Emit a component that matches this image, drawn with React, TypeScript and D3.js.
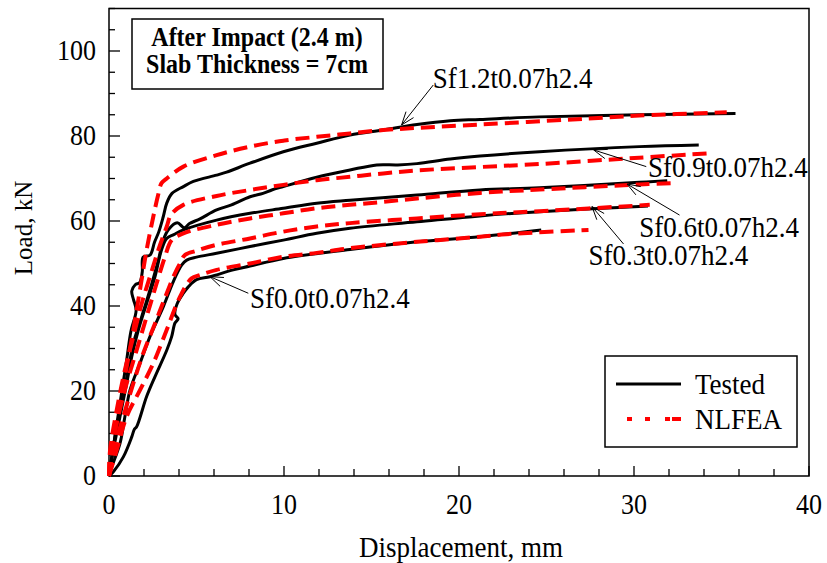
import React from "react";
import * as d3 from "d3";

type P = [number, number];

// Tick values
const xMajorTicks = [0, 10, 20, 30, 40];
const xMinorTicks = d3.range(0, 41, 2);
const yMajorTicks = [0, 20, 40, 60, 80, 100];
const yMinorTicks = d3.range(0, 111, 5);

// Series (displacement mm, load kN)
const testedSf12: P[] = [[0,0],[0.15,4],[0.4,11],[0.7,19],[1.0,27],[1.25,34],[1.55,39],[1.4,41.5],[1.3,43.5],[1.5,45],[1.75,45.5],[1.9,48],[1.95,51.5],[2.35,52],[2.6,55],[2.85,57.5],[3.1,61],[3.3,64.2],[3.6,66.5],[4.25,68.1],[4.82,69.3],[6.15,70.8],[6.72,71.5],[8.06,73.6],[9.96,76.3],[11.87,78.3],[13.77,80.2],[15.67,81.4],[17.6,82.7],[19.5,83.6],[21.2,83.9],[24.6,84.5],[30.3,85.0],[35.8,85.3]];
const nlfeaSf12: P[] = [[0,0],[0.06,1.4],[0.25,7.7],[0.63,17.2],[1.01,25.7],[1.39,34.4],[1.77,43.8],[2.15,53.2],[2.53,61],[2.8,66],[3.0,68.9],[3.3,70],[4.25,72.8],[6.15,75.5],[8.06,77.5],[9.96,78.9],[11.87,79.8],[13.77,80.6],[15.67,81.4],[17.6,81.9],[21.2,82.7],[26.5,83.9],[30.3,84.8],[35.3,85.6]];
const testedSf09: P[] = [[0,0],[0.1,3],[0.34,9.2],[0.72,17.1],[1.1,25],[1.39,31.2],[1.87,37.5],[2.34,43.8],[2.82,50.8],[3.1,55.5],[3.4,58],[3.9,59.6],[4.3,58.4],[4.6,59.4],[5.2,60.5],[6.15,62.6],[7.0,63.8],[8.06,65.7],[8.8,66.5],[9.3,67.3],[9.96,68.1],[11.87,70.3],[13.77,72],[15.3,73.2],[16.5,73.2],[17.6,73.5],[19.5,74.6],[21.2,75.3],[24.6,76.3],[30.3,77.5],[33.7,77.9]];
const nlfeaSf09: P[] = [[0,0],[0.06,6],[0.44,15.5],[0.91,25],[1.39,32.8],[1.87,40.6],[2.34,46.9],[2.82,53.2],[3.3,58.7],[3.55,61.5],[4.25,63.8],[6.15,65.9],[8.06,67.3],[9.96,68.5],[11.87,69.6],[13.77,70.4],[15.67,71.2],[17.6,71.9],[21.2,72.7],[24.6,73.4],[30.3,74.9],[34.2,75.9]];
const testedSf06: P[] = [[0,0],[0.25,6.1],[0.63,14],[1.01,21.8],[1.3,28.1],[1.68,34.4],[2.15,40.6],[2.63,46.9],[3.0,53.2],[3.3,55.9],[3.7,56.8],[4.25,57.9],[6.15,60.2],[8.06,61.8],[9.96,63],[11.87,64.2],[13.77,64.9],[17.6,66.1],[21.2,67.3],[24.6,67.8],[30.3,69.1],[31.9,69.5]];
const nlfeaSf06: P[] = [[0,0],[0.06,4.5],[0.44,12.4],[1.01,21.8],[1.58,29.6],[2.15,37.5],[2.72,45.3],[3.2,51.6],[3.58,55.5],[4.25,57.1],[6.15,59.1],[8.06,60.6],[9.96,61.8],[11.87,63],[13.77,63.8],[15.67,64.5],[17.6,65.3],[21.2,66.6],[24.6,67.4],[30.3,68.6],[32.2,68.9]];
const testedSf03: P[] = [[0,0],[0.1,1.5],[0.63,7.7],[0.91,14],[1.2,20.2],[1.77,26.5],[2.34,32.8],[3.1,39.8],[3.67,45.7],[4.15,49.6],[4.44,50.8],[5.0,51.5],[6.15,52.4],[8.06,54],[9.96,55.5],[11.87,57.1],[13.77,58.3],[17.6,59.8],[21.2,61.2],[24.6,62.2],[30.3,63.4],[30.8,63.5]];
const nlfeaSf03: P[] = [[0,0],[0.25,6.1],[0.82,14],[1.39,21.8],[1.96,28.9],[2.63,35.9],[3.3,43],[3.77,47.7],[4.06,50],[4.34,52],[5.0,53],[6.15,54.4],[8.06,55.9],[9.96,57.5],[11.87,58.7],[13.77,59.5],[17.6,60.6],[21.2,61.6],[24.6,62.3],[30.9,63.8]];
const testedSf00: P[] = [[0,0],[0.25,1],[0.82,4.5],[1.3,9.2],[1.45,11],[1.58,11.6],[2.15,18.7],[2.63,23.4],[3.3,29.6],[3.58,32.8],[3.77,36],[3.95,37],[3.77,38],[3.9,40.6],[4.25,43],[4.53,44.5],[5.0,46.2],[5.77,46.9],[7.1,48.5],[8.06,49.4],[9.96,51.2],[13.77,53.3],[17.6,55.1],[21.2,56.3],[24.7,57.9]];
const nlfeaSf00: P[] = [[0,0],[0.44,6.1],[1.01,14],[1.77,20.2],[2.53,26.5],[3.3,34.4],[4.06,42.2],[4.72,46.5],[5.2,47.3],[6.15,48.5],[8.06,50],[9.96,51.6],[11.87,52.5],[13.77,53.6],[17.6,55.1],[21.2,56.3],[22.7,56.9],[27.4,57.9]];

const testedSeries = [testedSf12, testedSf09, testedSf06, testedSf03, testedSf00];
const nlfeaSeries = [nlfeaSf12, nlfeaSf09, nlfeaSf06, nlfeaSf03, nlfeaSf00];

// Annotations: label, label anchor (data), arrow tail (data), arrow tip (data)
const annLabels = ["Sf1.2t0.07h2.4", "Sf0.9t0.07h2.4", "Sf0.6t0.07h2.4", "Sf0.3t0.07h2.4", "Sf0.0t0.07h2.4"];
const annText: P[] = [[18.5, 91.2], [30.8, 70.4], [30.3, 56.2], [27.4, 49.6], [8.06, 39.5]];
const annTail: P[] = [[18.53, 92], [30.7, 72.8], [32.6, 61.4], [29.4, 54.6], [7.96, 43]];
const annTip: P[] = [[16.72, 82.6], [27.7, 76.7], [29.6, 68.7], [27.6, 63.4], [5.77, 46.9]];

const legendLabels = ["Tested", "NLFEA"];

const FONT = "Liberation Serif, Times New Roman, Tinos, serif";
const SY = 1.1; // vertical stretch of glyphs seen in the reference

function T(props: { x: number; y: number; size: number; anchor?: string; bold?: boolean; dy?: number; children: React.ReactNode }) {
  const { x, y, size, anchor, bold, dy, children } = props;
  return (
    <text
      transform={`translate(${x},${y}) scale(1,${SY})`}
      y={dy || 0}
      style={{ fontFamily: FONT }}
      fontSize={size}
      fontWeight={bold ? "bold" : "normal"}
      textAnchor={anchor || "start"}
    >
      {children}
    </text>
  );
}

export default function App() {
  const W = 827, H = 563;
  const x = d3.scaleLinear().domain([0, 40]).range([109, 809]);
  const y = d3.scaleLinear().domain([0, 110]).range([476, 8.5]);
  const line = d3.line<P>().x(d => x(d[0])).y(d => y(d[1])).curve(d3.curveCatmullRom.alpha(0.5));

  const arrowHead = (tail: P, tip: P) => {
    const tx = x(tip[0]), ty = y(tip[1]);
    const ang = Math.atan2(ty - y(tail[1]), tx - x(tail[0]));
    const L = 14, a = 0.35;
    const p1 = [tx - L * Math.cos(ang - a), ty - L * Math.sin(ang - a)];
    const p2 = [tx - L * Math.cos(ang + a), ty - L * Math.sin(ang + a)];
    return `M${p1[0]},${p1[1]}L${tx},${ty}L${p2[0]},${p2[1]}`;
  };

  return (
    <svg width={W} height={H} style={{ position: "absolute", left: 0, top: 0, background: "#fff", fontFamily: FONT }}>
      <rect x={0} y={0} width={W} height={H} fill="#fff" />
      {/* frame */}
      <rect x={x(0)} y={y(110)} width={x(40) - x(0)} height={y(0) - y(110)} fill="none" stroke="#000" strokeWidth={1.5} />
      {/* ticks */}
      {xMinorTicks.map(t => (
        <line key={"xm" + t} x1={x(t)} x2={x(t)} y1={y(0)} y2={y(0) - (t % 10 === 0 ? 10 : 7)} stroke="#000" strokeWidth={1.3} />
      ))}
      {yMinorTicks.map(t => (
        <line key={"ym" + t} x1={x(0)} x2={x(0) + (t % 20 === 0 ? 11 : 6)} y1={y(t)} y2={y(t)} stroke="#000" strokeWidth={1.3} />
      ))}
      {xMajorTicks.map(t => (
        <T key={"xl" + t} x={x(t)} y={514} size={26} anchor="middle">{t}</T>
      ))}
      {yMajorTicks.map(t => (
        <T key={"yl" + t} x={96} y={y(t) + 9} size={26} anchor="end">{t}</T>
      ))}
      <T x={461} y={557} size={27} anchor="middle">Displacement, mm</T>
      <text style={{ fontFamily: FONT }} transform={`translate(32,228) rotate(-90)`} fontSize={25} textAnchor="middle">Load, kN</text>

      {/* curves */}
      {testedSeries.map((s, i) => (
        <path key={"t" + i} d={line(s) || ""} fill="none" stroke="#000" strokeWidth={3} strokeLinejoin="round" />
      ))}
      {nlfeaSeries.map((s, i) => (
        <path key={"n" + i} d={line(s) || ""} fill="none" stroke="#ff0000" strokeWidth={4} strokeDasharray="14,7" />
      ))}

      {/* annotations */}
      {annLabels.map((lab, i) => (
        <g key={"a" + i}>
          <line x1={x(annTail[i][0])} y1={y(annTail[i][1])} x2={x(annTip[i][0])} y2={y(annTip[i][1])} stroke="#000" strokeWidth={1} />
          <path d={arrowHead(annTail[i], annTip[i])} fill="none" stroke="#000" strokeWidth={1} />
          <T x={x(annText[i][0])} y={y(annText[i][1])} size={27}>{lab}</T>
        </g>
      ))}

      {/* title box */}
      <rect x={132} y={19} width={251} height={70} fill="#fff" stroke="#000" strokeWidth={1.5} />
      <T x={257} y={46} size={24} bold anchor="middle">After Impact (2.4 m)</T>
      <T x={257} y={73} size={24} bold anchor="middle">Slab Thickness = 7cm</T>

      {/* legend */}
      <rect x={605} y={356} width={192} height={91} fill="#fff" stroke="#000" strokeWidth={1.5} />
      <line x1={616} x2={681} y1={384} y2={384} stroke="#000" strokeWidth={3} />
      <T x={695} y={394} size={27}>{legendLabels[0]}</T>
      <line x1={627} x2={681} y1={419} y2={419} stroke="#ff0000" strokeWidth={4} strokeDasharray="5,13,5,15,5,2,9" />
      <T x={695} y={429} size={27}>{legendLabels[1]}</T>
    </svg>
  );
}
